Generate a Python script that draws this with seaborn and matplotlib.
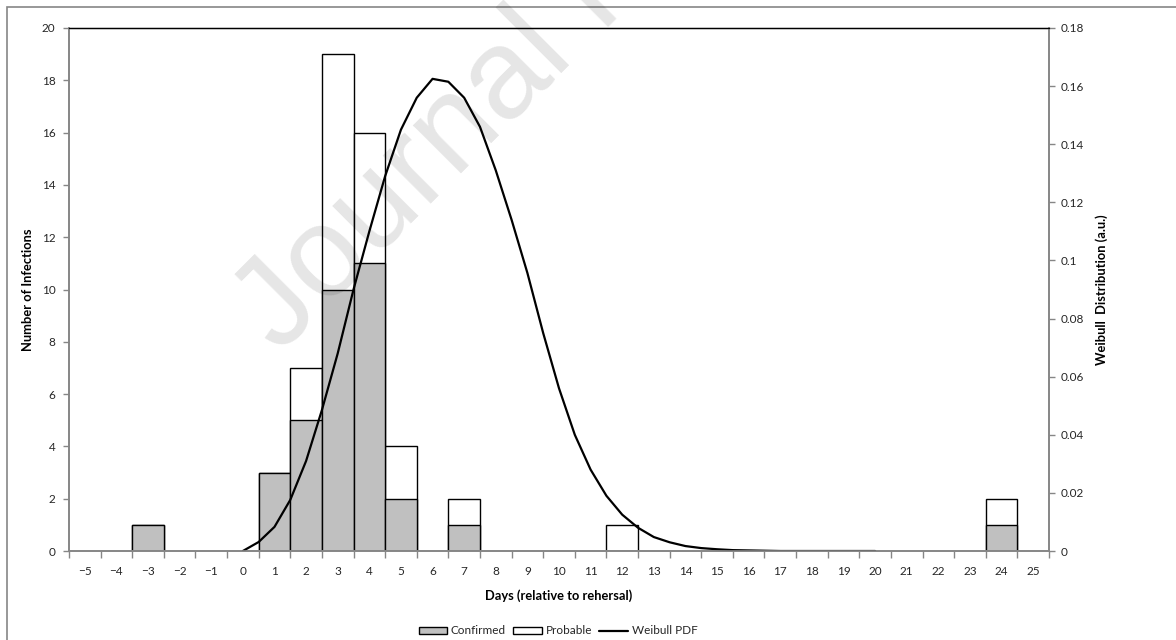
import matplotlib
matplotlib.use("Agg")
import matplotlib.pyplot as plt
import seaborn as sns
import numpy as np
import pandas as pd
from matplotlib.patches import Patch, Rectangle
from matplotlib.lines import Line2D

# Infection counts per day (relative to rehearsal)
days = [-3, 1, 2, 3, 4, 5, 7, 12, 24]
confirmed = [1, 3, 5, 10, 11, 2, 1, 0, 1]
probable = [0, 0, 2, 9, 5, 2, 1, 1, 1]

# Weibull PDF (half-day steps, 0..20)
weibull_days = [0, 0.5, 1, 1.5, 2, 2.5, 3, 3.5, 4, 4.5, 5, 5.5, 6, 6.5, 7, 7.5,
                8, 8.5, 9, 9.5, 10, 10.5, 11, 11.5, 12, 12.5, 13, 13.5, 14, 14.5,
                15, 15.5, 16, 16.5, 17, 17.5, 18, 18.5, 19, 19.5, 20]
weibull_pdf = [0, 0.0031, 0.0083, 0.0176, 0.031, 0.0485, 0.068, 0.090, 0.110, 0.129,
               0.145, 0.156, 0.1625, 0.1615, 0.156, 0.146, 0.131, 0.114, 0.0957, 0.075,
               0.056, 0.040, 0.028, 0.019, 0.0125, 0.008, 0.0048, 0.003, 0.0017, 0.001,
               0.0006, 0.0003, 0.0002, 0.0001, 0, 0, 0, 0, 0, 0, 0]

tick_days = list(range(-5, 26))

sns.set_style("white")
plt.rcParams['font.family'] = ['Lato', 'DejaVu Sans']

axis_grey = '#868686'
text_col = '#262626'

df = pd.DataFrame({'day': days, 'confirmed': confirmed, 'probable': probable})
df['total'] = df['confirmed'] + df['probable']
df_conf = df[df['confirmed'] > 0]
df_line = pd.DataFrame({'day': weibull_days, 'pdf': weibull_pdf})

fig = plt.figure(figsize=(11.76, 6.4), dpi=100)
ax = fig.add_axes([69 / 1176, 1 - 551 / 640, 980 / 1176, 523 / 640])

# stacked bars: total (probable on top) drawn first, confirmed over it
sns.barplot(data=df, x='day', y='total', native_scale=True, width=1.0,
            color='white', edgecolor='black', linewidth=1.0, saturation=1, ax=ax)
sns.barplot(data=df_conf, x='day', y='confirmed', native_scale=True, width=1.0,
            color='#c0c0c0', edgecolor='black', linewidth=1.0, saturation=1, ax=ax)

ax.set_xlim(-5.5, 25.5)
ax.set_ylim(0, 20)
ax.set_yticks(range(0, 21, 2))
ax.set_xticks(tick_days)
ax.set_xticks(np.arange(-5.5, 26, 1), minor=True)
ax.tick_params(axis='x', which='major', length=0, pad=11, labelsize=8.5, colors=text_col)
ax.tick_params(axis='x', which='minor', length=5, width=1, color=axis_grey, direction='out', bottom=True)
ax.tick_params(axis='y', which='major', length=4, width=1, color=axis_grey, direction='out',
               left=True, pad=5.8, labelsize=8.5, labelcolor=text_col)
for s in ['left', 'bottom', 'right']:
    ax.spines[s].set_color(axis_grey)
    ax.spines[s].set_linewidth(1.2)
ax.spines['top'].set_color('black')
ax.spines['top'].set_linewidth(1.0)

ax.set_xlabel('Days (relative to rehersal)', fontsize=9.3, fontweight='bold', color='black')
ax.xaxis.set_label_coords(0.5, -(589 - 551) / 523)
ax.set_ylabel('Number of Infections', fontsize=9.3, fontweight='bold', color='black')
ax.yaxis.set_label_coords(-(69 - 34) / 980, 0.5)

# secondary axis for the Weibull curve
ax2 = ax.twinx()
sns.lineplot(data=df_line, x='day', y='pdf', color='black', linewidth=1.6, ax=ax2)
ax2.set_ylim(0, 0.18)
ax2.set_yticks(np.arange(0, 0.181, 0.02))
ax2.set_yticklabels([f'{v:g}' for v in np.round(np.arange(0, 0.181, 0.02), 2)])
ax2.tick_params(axis='y', length=4, width=1, color=axis_grey, direction='out',
                right=True, pad=4.3, labelsize=8.5, labelcolor=text_col)
ax2.set_xlim(-5.5, 25.5)
ax2.set_ylabel('Weibull  Distribution (a.u.)', fontsize=9.3, fontweight='bold', color='black')
ax2.yaxis.set_label_coords((1095 - 69) / 980, 0.5)
for s in ['left', 'bottom', 'right']:
    ax2.spines[s].set_color(axis_grey)
    ax2.spines[s].set_linewidth(1.2)
ax2.spines['top'].set_color('black')

# legend below the plot
handles = [Patch(facecolor='#c0c0c0', edgecolor='black', linewidth=1.0, label='Confirmed'),
           Patch(facecolor='white', edgecolor='black', linewidth=1.0, label='Probable'),
           Line2D([0], [0], color='black', linewidth=1.6, label='Weibull PDF')]
fig.legend(handles=handles, loc='center', bbox_to_anchor=(558 / 1176, 1 - 631 / 640),
           ncol=3, frameon=False, fontsize=8.5, handlelength=2.4, handleheight=0.6,
           handletextpad=0.35, columnspacing=0.6, borderpad=0.1)

# chart outer border
fig.patches.append(Rectangle((7 / 1176, -0.1), 1.2, 1 - 7 / 640 + 0.1, transform=fig.transFigure,
                             fill=False, edgecolor=axis_grey, linewidth=1.2))

# watermark
fig.text(280 / 1176, 1 - 355 / 640, 'Journal Pre-proof', rotation=45, rotation_mode='anchor',
         ha='left', va='baseline', fontsize=92, color='black', alpha=0.1,
         family=['Liberation Sans', 'DejaVu Sans'])

fig.savefig('out.png', dpi=100)
